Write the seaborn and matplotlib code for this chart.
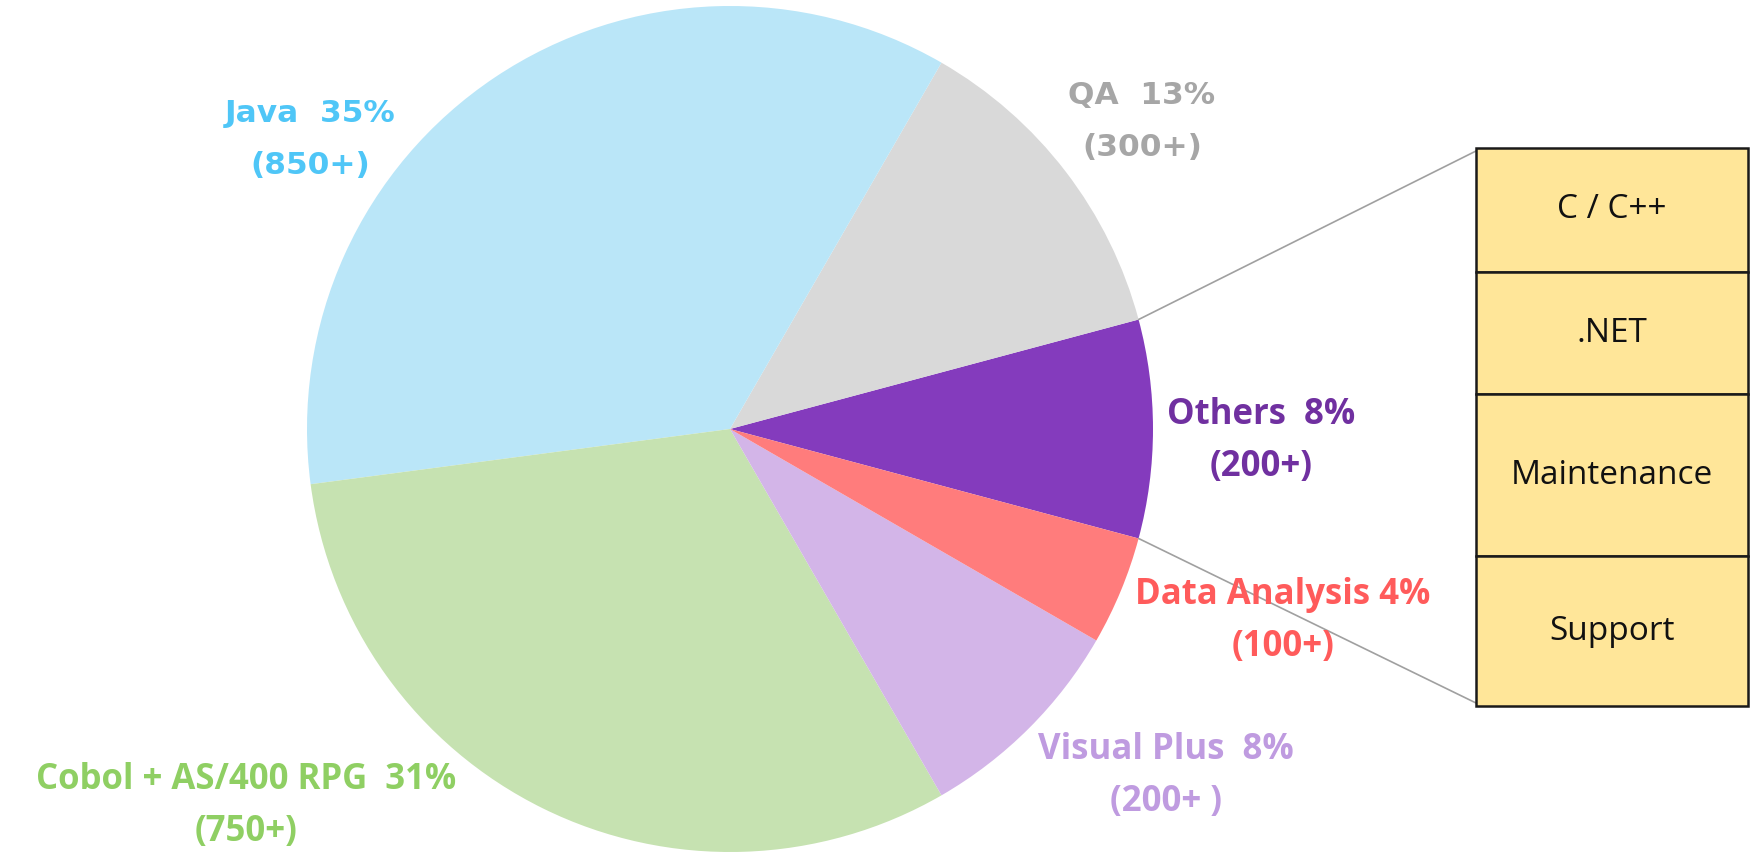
import numpy as np
import matplotlib.pyplot as plt
import seaborn as sns
from matplotlib.patches import Rectangle

# Head count per skill group (pie order, counter-clockwise from the right)
groups = ["Others", "QA", "Java", "Cobol + AS/400 RPG", "Visual Plus", "Data Analysis"]
counts = [200, 300, 850, 750, 200, 100]
pct_labels = ["8%", "13%", "35%", "31%", "8%", "4%"]
count_labels = ["(200+)", "(300+)", "(850+)", "(750+)", "(200+ )", "(100+)"]

# breakdown of the "Others" slice
others_items = ["C / C++", ".NET", "Maintenance", "Support"]

slice_colors = ["#843BBD", "#D9D9D9", "#BAE6F8", "#C6E2B1", "#D3B5E8", "#FF7C7C"]
text_colors = ["#7030A0", "#A6A6A6", "#4FC6F7", "#8FCF63", "#BF9BE0", "#FF5B5B"]
gaps = ["  ", "  ", "  ", "  ", "  ", " "]
fonts = ["Open Sans", "DejaVu Sans", "DejaVu Sans", "Open Sans", "Open Sans", "Open Sans"]
label_pos = [(1261, 441), (1142, 121), (310, 140), (246, 806), (1166, 776), (1283, 621)]

W, H = 1755, 859
sns.set_theme(style="white")
fig = plt.figure(figsize=(W / 100, H / 100), dpi=100)
ax = fig.add_axes([0, 0, 1, 1])

cx, cy, r = 730, H - 429, 423
wedges, _ = ax.pie(counts, colors=slice_colors, startangle=-15, counterclock=True,
                   center=(cx, cy), radius=r, wedgeprops=dict(linewidth=0))
ax.set_xlim(0, W)
ax.set_ylim(0, H)
ax.set_aspect("equal")
ax.set_axis_off()

# slice labels
for i, g in enumerate(groups):
    x, y = label_pos[i]
    fs = 22.5 if fonts[i] == "DejaVu Sans" else 25
    ax.text(x, H - (y - 26), g + gaps[i] + pct_labels[i], ha="center", va="center",
            color=text_colors[i], fontsize=fs, fontweight="bold", family=fonts[i])
    ax.text(x, H - (y + 26), count_labels[i], ha="center", va="center",
            color=text_colors[i], fontsize=fs, fontweight="bold", family=fonts[i])

# box listing what "Others" contains
bx0, bx1 = 1476, 1748
row_edges = [148, 272, 394, 556, 706]
for i, item in enumerate(others_items):
    top, bot = row_edges[i], row_edges[i + 1]
    ax.add_patch(Rectangle((bx0, H - bot), bx1 - bx0, bot - top, facecolor="#FFE699",
                           edgecolor="#1a1a1a", linewidth=1.8, zorder=3))
    ax.text((bx0 + bx1) / 2, H - (top + bot) / 2, item, ha="center", va="center",
            fontsize=24, color="#111111", family="Open Sans", zorder=4)

# leader lines from the Others slice to the box
w = wedges[0]
for ang, by in [(w.theta2, row_edges[0] + 3), (w.theta1, row_edges[-1] - 3)]:
    px = cx + r * np.cos(np.radians(ang))
    py = cy + r * np.sin(np.radians(ang))
    ax.plot([px, bx0], [py, H - by], color="#A0A0A0", linewidth=1.2, zorder=2)

fig.savefig("out.png", dpi=100, facecolor="white")
